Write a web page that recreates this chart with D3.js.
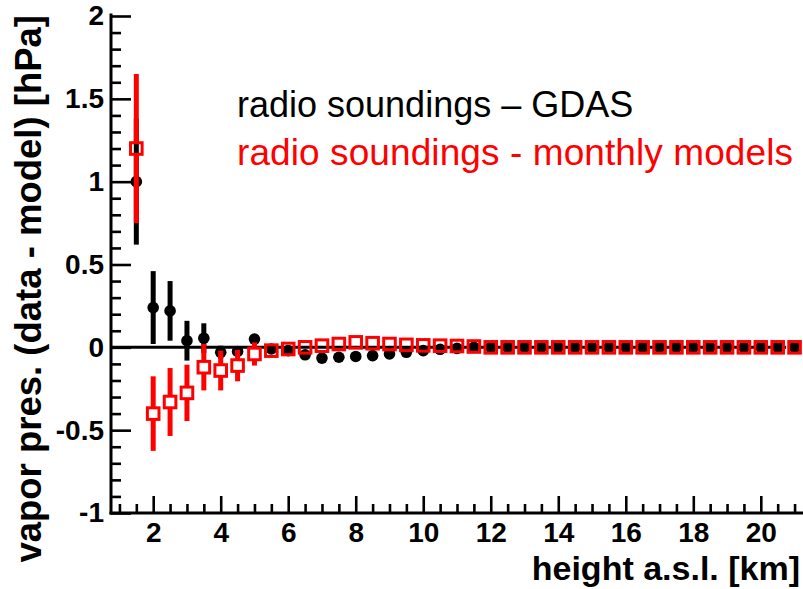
<!DOCTYPE html>
<html>
<head>
<meta charset="utf-8">
<script src="https://cdn.jsdelivr.net/npm/d3@7"></script>
<style>
  body { margin: 0; background: #fff; }
  svg { display: block; }
</style>
</head>
<body>
<svg id="chart" width="803" height="589"></svg>
<script>
// Heights above sea level [km]
const heights = [1.5, 2, 2.5, 3, 3.5, 4, 4.5, 5, 5.5, 6, 6.5, 7, 7.5, 8, 8.5, 9, 9.5, 10,
  10.5, 11, 11.5, 12, 12.5, 13, 13.5, 14, 14.5, 15, 15.5, 16, 16.5, 17, 17.5, 18, 18.5,
  19, 19.5, 20, 20.5, 21];

// Radio soundings minus GDAS [hPa]
const gdasDiff = [1.00, 0.24, 0.22, 0.04, 0.055, -0.03, -0.025, 0.05, -0.01, -0.02, -0.045,
  -0.065, -0.06, -0.055, -0.05, -0.04, -0.03, -0.02, -0.012, -0.006, 0, 0, 0, 0, 0, 0,
  0, 0, 0, 0, 0, 0, 0, 0, 0, 0, 0, 0, 0, 0];
const gdasErr = [0.38, 0.22, 0.18, 0.12, 0.09, 0.04, 0.03, 0.03, 0.02, 0.02, 0.02, 0.02,
  0.02, 0.02, 0.02, 0.015, 0.015, 0.01, 0.01, 0.01, 0.005, 0.005, 0.005, 0.005, 0.005,
  0.005, 0.005, 0.005, 0.005, 0.005, 0.005, 0.005, 0.005, 0.005, 0.005, 0.005, 0.005,
  0.005, 0.005, 0.005];

// Radio soundings minus monthly models [hPa]
const monthlyDiff = [1.20, -0.40, -0.33, -0.275, -0.12, -0.14, -0.11, -0.04, -0.02, -0.01,
  0.0, 0.01, 0.02, 0.03, 0.025, 0.02, 0.015, 0.012, 0.01, 0.008, 0.005, 0, 0, 0, 0, 0, 0,
  0, 0, 0, 0, 0, 0, 0, 0, 0, 0, 0, 0, 0];
const monthlyErr = [0.45, 0.225, 0.205, 0.17, 0.14, 0.12, 0.095, 0.07, 0.04, 0.025, 0.02,
  0.02, 0.02, 0.02, 0.02, 0.015, 0.015, 0.01, 0.01, 0.01, 0.01, 0.01, 0.01, 0.01, 0.01,
  0.01, 0.01, 0.01, 0.01, 0.01, 0.01, 0.01, 0.01, 0.01, 0.01, 0.01, 0.01, 0.01, 0.01, 0.01];

const xTicks = [2, 4, 6, 8, 10, 12, 14, 16, 18, 20];
const yTicks = [-1, -0.5, 0, 0.5, 1, 1.5, 2];

const legendLabels = ["radio soundings \u2013 GDAS", "radio soundings - monthly models"];
const xTitle = "height a.s.l. [km]";
const yTitle = "vapor pres. (data - model) [hPa]";

const RED = "#ff0000";
const FONT = '"Liberation Sans", Arial, Helvetica, sans-serif';

const x = d3.scaleLinear().domain([0.75, 21.25]).range([111, 803]);
const y = d3.scaleLinear().domain([-1, 2]).range([513, 16]);

const svg = d3.select("#chart");

// Reference line at zero
svg.append("line")
  .attr("x1", x(0.75)).attr("x2", x(20.75))
  .attr("y1", y(0)).attr("y2", y(0))
  .attr("stroke", "#000").attr("stroke-width", 3);

const gdas = heights.map((h, i) => ({ h, v: gdasDiff[i], e: gdasErr[i] }));
const monthly = heights.map((h, i) => ({ h, v: monthlyDiff[i], e: monthlyErr[i] }));

// GDAS: error bars and filled circles
const gG = svg.append("g");
gG.selectAll("line").data(gdas).join("line")
  .attr("x1", d => x(d.h)).attr("x2", d => x(d.h))
  .attr("y1", d => y(d.v + d.e)).attr("y2", d => y(d.v - d.e))
  .attr("stroke", "#000").attr("stroke-width", 5);
gG.selectAll("circle").data(gdas).join("circle")
  .attr("cx", d => x(d.h)).attr("cy", d => y(d.v)).attr("r", 5.8)
  .attr("fill", "#000");

// Monthly models: error bars split around open squares
const half = 5.8;
const gM = svg.append("g");
gM.selectAll("line.up").data(monthly.filter(d => y(d.v) - y(d.v + d.e) > half)).join("line")
  .attr("class", "up")
  .attr("x1", d => x(d.h)).attr("x2", d => x(d.h))
  .attr("y1", d => y(d.v + d.e)).attr("y2", d => y(d.v) - half)
  .attr("stroke", RED).attr("stroke-width", 5);
gM.selectAll("line.dn").data(monthly.filter(d => y(d.v - d.e) - y(d.v) > half)).join("line")
  .attr("class", "dn")
  .attr("x1", d => x(d.h)).attr("x2", d => x(d.h))
  .attr("y1", d => y(d.v) + half).attr("y2", d => y(d.v - d.e))
  .attr("stroke", RED).attr("stroke-width", 5);
gM.selectAll("rect").data(monthly).join("rect")
  .attr("x", d => x(d.h) - half).attr("y", d => y(d.v) - half)
  .attr("width", half * 2).attr("height", half * 2)
  .attr("fill", "none").attr("stroke", RED).attr("stroke-width", 3);

// Axes
const fmt = d => String(d);
const yMinor = d3.range(-10, 21).map(i => i / 10).filter(v => !yTicks.some(t => Math.abs(t - v) < 1e-9));
const xMinor = d3.range(2, 43).map(i => i / 2).filter(v => !xTicks.includes(v));

function styleAxis(g) {
  g.select(".domain").remove();
  g.selectAll(".tick line").attr("stroke", "#000").attr("stroke-width", 2.6);
  g.selectAll(".tick text")
    .attr("fill", "#000")
    .style("font-family", FONT).style("font-weight", "bold").style("font-size", "28px");
}

svg.append("g").attr("transform", `translate(${x(0.75)},0)`)
  .call(d3.axisLeft(y).tickValues(yMinor).tickSize(-10).tickFormat(""))
  .call(styleAxis);
svg.append("g").attr("transform", `translate(${x(0.75)},0)`)
  .call(d3.axisLeft(y).tickValues(yTicks).tickSize(-20).tickPadding(7).tickFormat(fmt))
  .call(styleAxis);

svg.append("g").attr("transform", `translate(0,${y(-1)})`)
  .call(d3.axisBottom(x).tickValues(xMinor).tickSize(-9).tickFormat(""))
  .call(styleAxis);
svg.append("g").attr("transform", `translate(0,${y(-1)})`)
  .call(d3.axisBottom(x).tickValues(xTicks).tickSize(-17).tickPadding(9).tickFormat(fmt))
  .call(styleAxis);

// Axis lines
svg.append("line")
  .attr("x1", x(0.75)).attr("x2", x(0.75)).attr("y1", y(-1)).attr("y2", y(2) - 1)
  .attr("stroke", "#000").attr("stroke-width", 3).attr("stroke-linecap", "square");
svg.append("line")
  .attr("x1", x(0.75)).attr("x2", 803).attr("y1", y(-1)).attr("y2", y(-1))
  .attr("stroke", "#000").attr("stroke-width", 3).attr("stroke-linecap", "square");

// Axis titles
svg.append("text")
  .attr("x", 800).attr("y", 580)
  .attr("text-anchor", "end")
  .style("font-family", FONT).style("font-weight", "bold").style("font-size", "34px")
  .text(xTitle);
svg.append("text")
  .attr("transform", "translate(41,15) rotate(-90)")
  .attr("text-anchor", "end")
  .style("font-family", FONT).style("font-weight", "bold").style("font-size", "36.5px")
  .text(yTitle);

// Legend
const legendColors = ["#000", RED];
const legendY = [117, 165];
const legendSize = ["36px", "37px"];
svg.append("g").selectAll("text").data(legendLabels).join("text")
  .attr("x", 237).attr("y", (d, i) => legendY[i])
  .attr("fill", (d, i) => legendColors[i])
  .style("font-family", FONT).style("font-size", (d, i) => legendSize[i])
  .attr("textLength", (d, i) => i === 1 ? 556 : null)
  .text(d => d);
</script>
</body>
</html>
